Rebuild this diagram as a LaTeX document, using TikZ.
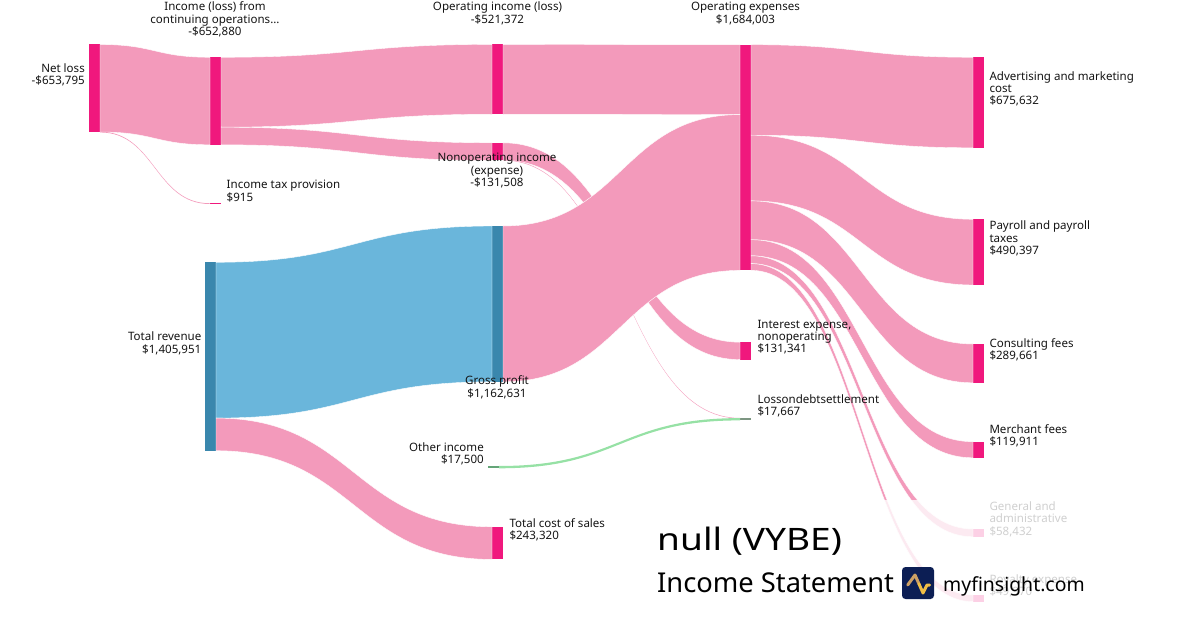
\documentclass[tikz,border=0pt]{standalone}
\usepackage{fontspec}
\setmainfont{Noto Sans}
\newfontfamily\titlefont[FakeStretch=1.2]{Noto Sans}
\usetikzlibrary{calc}
\definecolor{lpink}{RGB}{243,154,187}
\definecolor{npink}{RGB}{240,24,125}
\definecolor{lblue}{RGB}{106,182,219}
\definecolor{nblue}{RGB}{58,135,173}
\definecolor{lgreen}{RGB}{150,225,165}
\definecolor{ngreen}{RGB}{100,165,120}
\definecolor{ngrey}{RGB}{125,150,130}
\definecolor{navy}{RGB}{12,30,84}
\definecolor{goldA}{RGB}{205,160,100}
\definecolor{goldB}{RGB}{240,190,70}
\definecolor{txt}{RGB}{20,20,20}
\tikzset{
  bar/.style={rectangle, draw=none, fill=npink, minimum width=11bp, inner sep=0pt, outer sep=0pt, anchor=north west},
  lbl/.style={font=\fontsize{11.6}{12.4}\selectfont, text=txt, inner sep=0pt},
  flowp/.style={fill=lpink, draw=white, line width=0.4bp},
  flowthin/.style={fill=lpink},
  flowb/.style={fill=lblue, draw=white, line width=0.4bp},
  flowg/.style={fill=lgreen},
}
\newcommand\flowlink[6]{%
  \coordinate (fa) at ([yshift=-#2bp]#1.north east);
  \coordinate (fb) at ([yshift=-#4bp]#3.north west);
  \coordinate (fc) at ([yshift=-#5bp]fa);
  \coordinate (fd) at ([yshift=-#5bp]fb);
  \coordinate (fm) at ($(fa)!0.5!(fb)$);
  \path[#6] (fa) .. controls (fm |- fa) and (fm |- fb) .. (fb) -- (fd)
     .. controls (fm |- fd) and (fm |- fc) .. (fc) -- cycle;
}
\begin{document}
\begin{tikzpicture}[x=1bp,y=-1bp]
\useasboundingbox (0,0) rectangle (1200,630);
% bars
\node[bar, minimum height=87.6bp] (netloss) at (89,44.5) {};
\node[bar, minimum height=87.5bp] (incops) at (210,57.3) {};
\node[bar, minimum height=1bp] (taxprov) at (210,203.3) {};
\node[bar, fill=nblue, minimum height=188.4bp] (totrev) at (205,262.3) {};
\node[bar, minimum height=69.9bp] (opinc) at (492,44.4) {};
\node[bar, minimum height=17.6bp] (nonop) at (492,142.8) {};
\node[bar, fill=nblue, minimum height=155.8bp] (gross) at (492,226) {};
\node[bar, fill=ngreen, minimum height=2.3bp] (other) at (488,466) {};
\node[bar, minimum height=32.6bp] (cos) at (492,526.8) {};
\node[bar, minimum height=225.7bp] (opex) at (740,44.7) {};
\node[bar, minimum height=17.6bp] (interest) at (740,342.2) {};
\node[bar, fill=ngrey, minimum height=2.4bp] (lossdebt) at (740,418) {};
\node[bar, minimum height=90.5bp] (adv) at (973,57.3) {};
\node[bar, minimum height=65.7bp] (payroll) at (973,219.3) {};
\node[bar, minimum height=38.8bp] (consult) at (973,344) {};
\node[bar, minimum height=16.1bp] (merchant) at (973,441.7) {};
\node[bar, minimum height=7.8bp] (gna) at (973,529) {};
\node[bar, minimum height=6.7bp] (royalty) at (973,595) {};
% flows
\flowlink{netloss}{0}{incops}{0}{87.5}{flowp}
\flowlink{netloss}{87.2}{taxprov}{0}{0.7}{flowthin}
\flowlink{incops}{0}{opinc}{0}{69.9}{flowp}
\flowlink{incops}{69.9}{nonop}{0}{17.6}{flowp}
\flowlink{nonop}{0}{interest}{0}{17.4}{flowp}
\flowlink{nonop}{17.1}{lossdebt}{0}{0.5}{flowthin}
\flowlink{totrev}{0}{gross}{0}{155.8}{flowb}
\flowlink{totrev}{155.8}{cos}{0}{32.6}{flowp}
\flowlink{opinc}{0}{opex}{0}{69.9}{flowp}
\flowlink{gross}{0}{opex}{69.9}{155.8}{flowp}
\flowlink{other}{0}{lossdebt}{0.1}{2.3}{flowg}
\flowlink{opex}{0}{adv}{0}{90.5}{flowp}
\flowlink{opex}{90.5}{payroll}{0}{65.7}{flowp}
\flowlink{opex}{156.2}{consult}{0}{38.8}{flowp}
\flowlink{opex}{195}{merchant}{0}{16.1}{flowp}
\flowlink{opex}{211.1}{gna}{0}{7.8}{flowp}
\flowlink{opex}{218.9}{royalty}{0}{6.7}{flowp}
% labels
\node[lbl, anchor=east, align=right] (lnetloss) at (85,75) {Net loss\\-\$653,795};
\node[lbl, align=center] (lincops) at (215,19.5) {Income (loss) from\\continuing operations...\\-\$652,880};
\node[lbl, anchor=west, align=left] (ltax) at (226.5,191) {Income tax provision\\\$915};
\node[lbl, anchor=east, align=right] (ltotrev) at (201.5,343.5) {Total revenue\\\$1,405,951};
\node[lbl, align=center] (lopinc) at (497.5,13.5) {Operating income (loss)\\-\$521,372};
\node[lbl, align=center] (lnonop) at (497,170.5) {Nonoperating income\\(expense)\\-\$131,508};
\node[lbl, align=center] (lgross) at (497,387.5) {Gross profit\\\$1,162,631};
\node[lbl, anchor=east, align=right] (lother) at (484,454) {Other income\\\$17,500};
\node[lbl, anchor=west, align=left] (lcos) at (509.3,530) {Total cost of sales\\\$243,320};
\node[lbl, align=center] (lopex) at (745.5,13.5) {Operating expenses\\\$1,684,003};
\node[lbl, anchor=west, align=left] (linterest) at (757.3,337) {Interest expense,\\nonoperating\\\$131,341};
\node[lbl, anchor=west, align=left] (lloss) at (757.3,406) {Lossondebtsettlement\\\$17,667};
\node[lbl, anchor=west, align=left] (ladv) at (989.3,89) {Advertising and marketing\\cost\\\$675,632};
\node[lbl, anchor=west, align=left] (lpay) at (989.3,238.7) {Payroll and payroll\\taxes\\\$490,397};
\node[lbl, anchor=west, align=left] (lcons) at (989.3,350) {Consulting fees\\\$289,661};
\node[lbl, anchor=west, align=left] (lmerch) at (989.3,436) {Merchant fees\\\$119,911};
\node[lbl, anchor=west, align=left] (lgna) at (989.3,519) {General and\\administrative\\\$58,432};
\node[lbl, anchor=west, align=left] (lroy) at (989.3,586) {Royalty expense\\\$49,970};
% fading overlay
\fill[white, opacity=0.8] (640,500) rectangle (1200,630);
% title
\node[anchor=base west, inner sep=0pt, font=\titlefont\fontsize{31}{33}\selectfont, text=black] (title) at (657,550) {null (VYBE)};
\node[anchor=base west, inner sep=0pt, font=\fontsize{27.4}{30}\selectfont, text=black] (subtitle) at (657,592) {Income Statement};
\node[rectangle, fill=navy, rounded corners=3.5bp, minimum size=32bp, inner sep=0pt] (logo) at (918,583) {};
\draw[goldA, line width=3bp, line cap=round, line join=round] (907.7,585) -- (915,575) -- (919,584);
\draw[goldB, line width=3bp, line cap=round, line join=round] (919,584) -- (923,593) -- (927,585) -- (929.5,585);
\node[anchor=base west, inner sep=0pt, font=\fontsize{19.5}{22}\selectfont, text=black] (site) at (943,591) {myfinsight.com};
\end{tikzpicture}
\end{document}
